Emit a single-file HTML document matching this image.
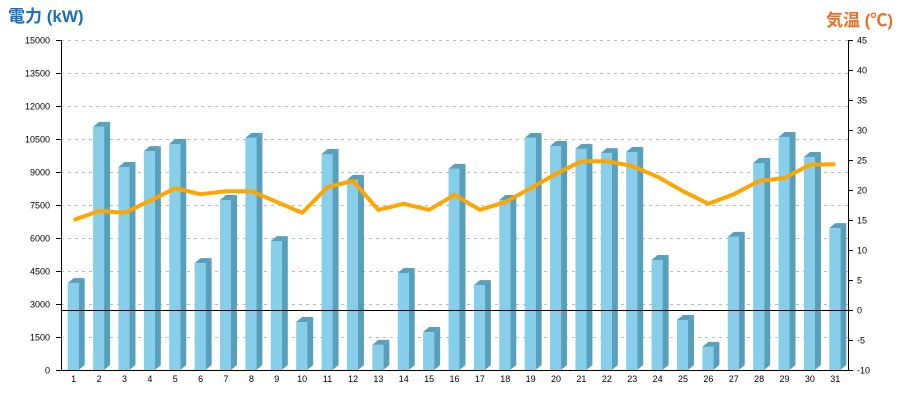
<!DOCTYPE html>
<html><head><meta charset="utf-8"><style>
body{margin:0;background:#fff;}
svg{display:block;font-family:"Liberation Sans","Noto Sans CJK JP",sans-serif;}
</style></head><body>
<svg id="chart" width="900" height="400" viewBox="0 0 900 400">
<text x="8" y="22" font-size="17" font-weight="bold" fill="#1a6fb5">電力 (kW)</text>
<text x="893" y="26" font-size="17" font-weight="bold" fill="#e8702a" text-anchor="end">気温 (℃)</text>
<g id="grid"></g><g id="bars"></g><g id="line"></g><g id="axes"></g>
</svg>
<script>
const categories=[1,2,3,4,5,6,7,8,9,10,11,12,13,14,15,16,17,18,19,20,21,22,23,24,25,26,27,28,29,30,31];
const power=[3950,11050,9230,9950,10270,4860,7730,10550,5860,2180,9820,8640,1140,4410,1730,9140,3860,7730,10550,10180,10050,9860,9910,5000,2270,1050,6050,9410,10590,9680,6450];
const temp=[15.0,16.5,16.2,18.2,20.3,19.3,19.8,19.8,18.0,16.2,20.5,21.5,16.7,17.7,16.7,19.2,16.7,18.0,20.3,22.7,24.8,24.8,24.0,22.2,19.8,17.7,19.3,21.5,22.0,24.2,24.3];
const leftTicks=[0,1500,3000,4500,6000,7500,9000,10500,12000,13500,15000];
const rightTicks=[-10,-5,0,5,10,15,20,25,30,35,40,45];
const NS="http://www.w3.org/2000/svg";
const X0=61,X1=848,Y0=370,Y1=40;
const step=(X1-X0)/categories.length;
const xc=i=>X0+(i+0.5)*step;
const yL=v=>Y0-(v/15000)*(Y0-Y1);
const yR=v=>Y0-((v+10)/55)*(Y0-Y1);
function mk(tag,attrs,parent){const e=document.createElementNS(NS,tag);for(const k in attrs)e.setAttribute(k,attrs[k]);parent.appendChild(e);return e;}
const grid=document.getElementById('grid'),bars=document.getElementById('bars'),line=document.getElementById('line'),axes=document.getElementById('axes');
leftTicks.forEach(t=>{const y=Math.round(yL(t))+0.5;
 if(t>0){const g=mk('line',{x1:X0,x2:X1,y1:y,y2:y,stroke:'#bbb','stroke-dasharray':'3,4'},grid);
 
 }
 const tk=mk('line',{x1:X0-5,x2:X0,y1:y,y2:y,stroke:'#000'},axes);
 
 
 const tx=mk('text',{x:X0-11,y:y+3,'font-size':9,'text-anchor':'end',fill:'#000'},axes);tx.textContent=t;
 
 });
rightTicks.forEach(t=>{const y=Math.round(yR(t))+0.5;
 const tk=mk('line',{x1:X1,x2:X1+5,y1:y,y2:y,stroke:'#000'},axes);
 
 
 const tx=mk('text',{x:X1+9,y:y+3,'font-size':9,fill:'#000'},axes);tx.textContent=t;
 
 });
power.forEach((v,i)=>{const c=xc(i),y=yL(v),l=c-6,w=11,d=6;
 const g=mk('g',{},bars);
 
 
 mk('polygon',{points:`${l+w},${y} ${l+w+d},${y-5} ${l+w+d},${Y0-5} ${l+w},${Y0}`,fill:'#589fbc'},g);
 mk('polygon',{points:`${l},${y} ${l+d},${y-5} ${l+w+d},${y-5} ${l+w},${y}`,fill:'#589fbc'},g);
 mk('rect',{x:l,y:y,width:w,height:Y0-y,fill:'#87ceea'},g);
 const tx=mk('text',{x:c,y:382,'font-size':9,'text-anchor':'middle',fill:'#000'},axes);tx.textContent=categories[i];
 
 });
const zl=mk('line',{x1:X0,x2:X1,y1:Math.round(yR(0))+0.5,y2:Math.round(yR(0))+0.5,stroke:'#000','stroke-width':1},line);


const pl=mk('polyline',{points:temp.map((t,i)=>xc(i)+','+yR(t)).join(' '),fill:'none',stroke:'#ffa500','stroke-width':4,'stroke-linejoin':'round'},line);


const la=mk('line',{x1:X0+0.5,x2:X0+0.5,y1:Y1,y2:Y0,stroke:'#000'},axes);


const ra=mk('line',{x1:X1+0.5,x2:X1+0.5,y1:Y1,y2:Y0,stroke:'#000'},axes);


const ba=mk('line',{x1:X0,x2:X1,y1:Y0+0.5,y2:Y0+0.5,stroke:'#000'},axes);


</script>
</body></html>
